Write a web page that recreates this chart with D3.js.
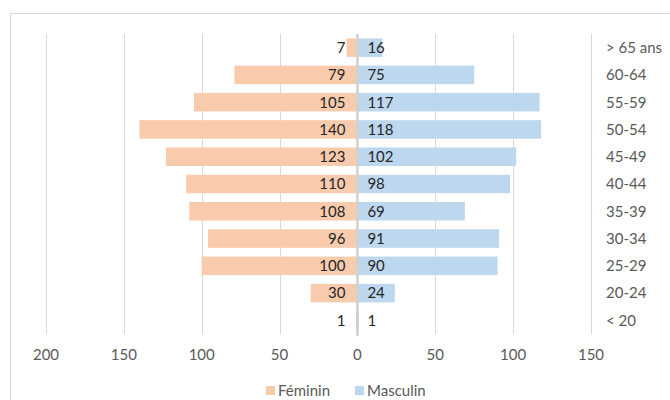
<!DOCTYPE html>
<html>
<head>
<meta charset="utf-8">
<script src="https://cdn.jsdelivr.net/npm/d3@7"></script>
<style>
  body { margin: 0; background: #fff; }
  svg { display: block; font-family: Lato, "Open Sans", sans-serif; }
</style>
</head>
<body>
<div id="chart"></div>
<script>
// age groups, top to bottom
const ageGroups = ["> 65 ans", "60-64", "55-59", "50-54", "45-49", "40-44", "35-39", "30-34", "25-29", "20-24", "< 20"];
const feminin = [7, 79, 105, 140, 123, 110, 108, 96, 100, 30, 1];
const masculin = [16, 75, 117, 118, 102, 98, 69, 91, 90, 24, 1];
const tickValues = [-200, -150, -100, -50, 0, 50, 100, 150];

const width = 670, height = 400;
const colF = "#f8cbad", colM = "#bdd7ee";

const svg = d3.select("#chart").append("svg")
    .attr("width", width)
    .attr("height", height);

// outer chart border (runs off the right/bottom edge)
svg.append("rect")
    .attr("x", 10.5).attr("y", 13.5)
    .attr("width", 700).attr("height", 420)
    .attr("fill", "none")
    .attr("stroke", "#d9d9d9");

const x = d3.scaleLinear().domain([-200, 150]).range([46, 591]);
const y = d3.scaleBand().domain(ageGroups).range([34, 334])
    .paddingInner(0.32).paddingOuter(0.16);

const rows = ageGroups.map((g, i) => ({ group: g, f: feminin[i], m: masculin[i] }));

// gridlines
svg.append("g")
    .selectAll("line")
    .data(tickValues.filter(d => d !== 0))
    .join("line")
    .attr("x1", d => Math.round(x(d)) + 0.5)
    .attr("x2", d => Math.round(x(d)) + 0.5)
    .attr("y1", 34).attr("y2", 334)
    .attr("stroke", "#d9d9d9");

// bars
svg.append("g")
    .selectAll("rect")
    .data(rows)
    .join("rect")
    .attr("x", d => x(-d.f))
    .attr("y", d => y(d.group))
    .attr("width", d => x(0) - x(-d.f))
    .attr("height", y.bandwidth())
    .attr("fill", colF);

svg.append("g")
    .selectAll("rect")
    .data(rows)
    .join("rect")
    .attr("x", x(0))
    .attr("y", d => y(d.group))
    .attr("width", d => x(d.m) - x(0))
    .attr("height", y.bandwidth())
    .attr("fill", colM);

// zero axis
svg.append("line")
    .attr("x1", x(0)).attr("x2", x(0))
    .attr("y1", 34).attr("y2", 336)
    .attr("stroke", "#d0d0d0")
    .attr("stroke-width", 2.5);

// value labels
const lab = svg.append("g")
    .attr("font-size", 15)
    .attr("fill", "#262626");

lab.selectAll("text.f")
    .data(rows)
    .join("text")
    .attr("class", "f")
    .attr("x", x(0) - 12)
    .attr("y", d => y(d.group) + y.bandwidth() / 2)
    .attr("dy", "0.36em")
    .attr("text-anchor", "end")
    .text(d => d.f);

lab.selectAll("text.m")
    .data(rows)
    .join("text")
    .attr("class", "m")
    .attr("x", x(0) + 10)
    .attr("y", d => y(d.group) + y.bandwidth() / 2)
    .attr("dy", "0.36em")
    .text(d => d.m);

// category labels on the right
svg.append("g")
    .attr("font-size", 15)
    .attr("fill", "#595959")
    .selectAll("text")
    .data(ageGroups)
    .join("text")
    .attr("x", 606)
    .attr("y", d => y(d) + y.bandwidth() / 2)
    .attr("dy", "0.36em")
    .text(d => d);

// x axis tick labels
svg.append("g")
    .attr("font-size", 15)
    .attr("fill", "#595959")
    .selectAll("text")
    .data(tickValues)
    .join("text")
    .attr("x", d => x(d))
    .attr("y", 355)
    .attr("dy", "0.36em")
    .attr("text-anchor", "middle")
    .text(d => Math.abs(d));

// legend
const legend = svg.append("g").attr("font-size", 15).attr("fill", "#595959");
const legendItems = [{ name: "Féminin", color: colF, x: 266 }, { name: "Masculin", color: colM, x: 355 }];
legendItems.forEach(d => {
    legend.append("rect")
        .attr("x", d.x).attr("y", 386)
        .attr("width", 9).attr("height", 9)
        .attr("fill", d.color);
    legend.append("text")
        .attr("x", d.x + 12).attr("y", 390.5)
        .attr("dy", "0.36em")
        .text(d.name);
});
</script>
</body>
</html>
